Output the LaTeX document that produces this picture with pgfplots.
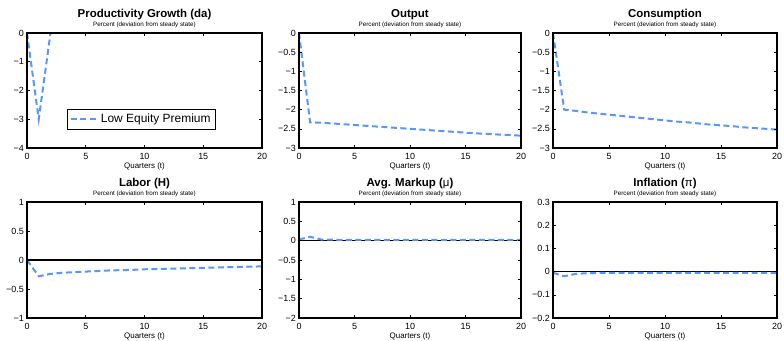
\documentclass[border=0pt]{standalone}
\usepackage{fontspec}
\setmainfont{Liberation Sans}
\usepackage{pgfplots}
\pgfplotsset{compat=1.18}
\definecolor{irfblue}{RGB}{88,150,255}

\newcommand{\paneltitle}[1]{%
 \node[anchor=base, inner sep=0pt, yshift=15.5bp, font=\bfseries\fontsize{11.5}{12}\selectfont] at (rel axis cs:0.5,1) {#1};
 \node[anchor=base, inner sep=0pt, yshift=6.7bp, font=\fontsize{6.3}{7}\selectfont] at (rel axis cs:0.5,1) {Percent (deviation from steady state)};}

\pgfplotsset{
  irf/.style={
    scale only axis, anchor=south west, axis on top,
    xmin=0, xmax=20, xtick={0,5,10,15,20},
    tick align=inside, major tick length=3bp,
    axis line style={line width=1.1bp, black},
    every tick/.style={black, line width=0.6bp},
    ticklabel style={font=\fontsize{9}{9}\selectfont},
    /pgf/number format/assume math mode=true,
    yticklabel={\pgfmathparse{abs(\tick)}\ifdim\tick pt<-0.0001pt −\fi\pgfmathprintnumber{\pgfmathresult}},
    yticklabel style={inner sep=0pt, xshift=-3bp},
    xticklabel style={inner sep=0pt, yshift=-4.7bp},
    xlabel={Quarters (t)},
    xlabel style={font=\fontsize{8}{8}\selectfont, at={(axis description cs:0.5,0)}, anchor=base, yshift=-20.5bp, inner sep=0pt},
    clip mode=individual,
  },
  zline/.style={black, line width=1.2bp, forget plot},
  irfline/.style={irfblue, line width=2bp, dash pattern=on 6bp off 3.5bp},
}

\begin{document}
\begin{tikzpicture}
\path[use as bounding box] (0,0) rectangle (784bp,341bp);

% Productivity growth
\begin{axis}[irf, at={(27bp,193bp)}, width=235bp, height=115bp,
  ymin=-4, ymax=0, ytick={-4,-3,-2,-1,0},
  legend style={at={(0.170,0.157)}, anchor=south west, draw=black, line width=1bp,
    inner xsep=2.5bp, inner ysep=3bp, font=\fontsize{12}{12}\selectfont,
    legend cell align=left},
  legend image code/.code={\draw[#1] (0bp,0bp) -- (27bp,0bp);},
]
\addplot[zline] coordinates {(0,0) (20,0)};
\addplot[irfline] coordinates {(0,0) (1,-3) (2,0) (3,0) (4,0) (5,0) (6,0) (7,0) (8,0) (9,0) (10,0) (11,0) (12,0) (13,0) (14,0) (15,0) (16,0) (17,0) (18,0) (19,0) (20,0)};
\addlegendentry{Low Equity Premium}
\paneltitle{Productivity Growth (da)}
\end{axis}

% Output
\begin{axis}[irf, at={(299bp,193bp)}, width=222bp, height=115bp,
  ymin=-3, ymax=0, ytick={-3,-2.5,-2,-1.5,-1,-0.5,0}]
\addplot[zline] coordinates {(0,0) (20,0)};
\addplot[irfline] coordinates {(0,0) (1,-2.33) (2,-2.34) (3,-2.36) (4,-2.38) (5,-2.40) (6,-2.42) (7,-2.44) (8,-2.46) (9,-2.48) (10,-2.50) (11,-2.52) (12,-2.54) (13,-2.56) (14,-2.58) (15,-2.60) (16,-2.62) (17,-2.63) (18,-2.65) (19,-2.66) (20,-2.68)};
\paneltitle{Output}
\end{axis}

% Consumption
\begin{axis}[irf, at={(553bp,193bp)}, width=224bp, height=115bp,
  ymin=-3, ymax=0, ytick={-3,-2.5,-2,-1.5,-1,-0.5,0}]
\addplot[zline] coordinates {(0,0) (20,0)};
\addplot[irfline] coordinates {(0,0) (1,-2.00) (2,-2.03) (3,-2.07) (4,-2.10) (5,-2.13) (6,-2.16) (7,-2.19) (8,-2.22) (9,-2.25) (10,-2.28) (11,-2.31) (12,-2.33) (13,-2.36) (14,-2.39) (15,-2.41) (16,-2.43) (17,-2.46) (18,-2.48) (19,-2.50) (20,-2.52)};
\paneltitle{Consumption}
\end{axis}

% Labor
\begin{axis}[irf, at={(27bp,23bp)}, width=235bp, height=116bp,
  ymin=-1, ymax=1, ytick={-1,-0.5,0,0.5,1}]
\addplot[zline] coordinates {(0,0) (20,0)};
\addplot[irfline] coordinates {(0,0) (1,-0.28) (2,-0.24) (3,-0.22) (4,-0.21) (5,-0.20) (6,-0.19) (7,-0.18) (8,-0.175) (9,-0.17) (10,-0.16) (11,-0.155) (12,-0.15) (13,-0.145) (14,-0.14) (15,-0.135) (16,-0.13) (17,-0.125) (18,-0.12) (19,-0.115) (20,-0.11)};
\paneltitle{Labor (H)}
\end{axis}

% Markup
\begin{axis}[irf, at={(299bp,23bp)}, width=222bp, height=116bp,
  ymin=-2, ymax=1, ytick={-2,-1.5,-1,-0.5,0,0.5,1}]
\addplot[zline] coordinates {(0,0) (20,0)};
\addplot[irfline] coordinates {(0,0.03) (1,0.10) (2,0.03) (3,0.025) (4,0.02) (5,0.02) (6,0.02) (7,0.02) (8,0.02) (9,0.02) (10,0.02) (11,0.02) (12,0.02) (13,0.02) (14,0.02) (15,0.02) (16,0.02) (17,0.02) (18,0.02) (19,0.02) (20,0.02)};
\paneltitle{Avg. Markup ({\mdseries μ})}
\end{axis}

% Inflation
\begin{axis}[irf, at={(553bp,23bp)}, width=224bp, height=116bp,
  ymin=-0.2, ymax=0.3, ytick={-0.2,-0.1,0,0.1,0.2,0.3}]
\addplot[zline] coordinates {(0,0) (20,0)};
\addplot[irfline] coordinates {(0,-0.005) (1,-0.02) (2,-0.01) (3,-0.007) (4,-0.006) (5,-0.005) (6,-0.005) (7,-0.005) (8,-0.005) (9,-0.005) (10,-0.005) (11,-0.005) (12,-0.005) (13,-0.005) (14,-0.005) (15,-0.005) (16,-0.005) (17,-0.005) (18,-0.005) (19,-0.005) (20,-0.005)};
\paneltitle{Inflation ({\mdseries π})}
\end{axis}
\end{tikzpicture}
\end{document}
